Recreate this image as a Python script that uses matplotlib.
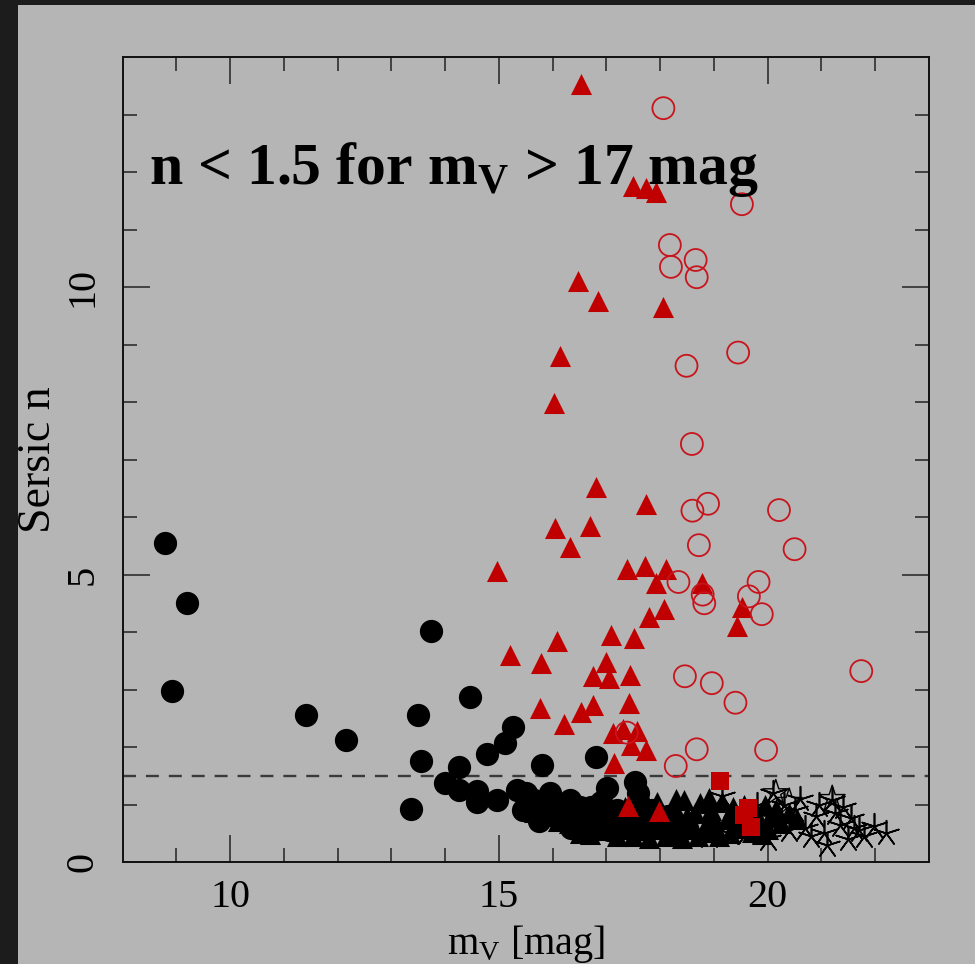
import matplotlib
matplotlib.use('Agg')
import matplotlib.pyplot as plt
from matplotlib.patches import Rectangle

plt.rcParams['font.family'] = ['Liberation Serif', 'DejaVu Serif']
plt.rcParams['mathtext.fontset'] = 'custom'
plt.rcParams['mathtext.rm'] = 'Liberation Serif'
plt.rcParams['mathtext.bf'] = 'Liberation Serif:bold'

# bright black filled circles
circ_x = [8.79, 9.2, 8.92, 11.42, 12.16, 13.74, 14.46, 13.5, 15.27, 15.12, 14.78, 13.56, 14.25,
          15.8, 16.8, 13.99, 14.25, 14.6, 14.97, 14.6, 15.34, 15.65, 15.96, 16.33, 17.02, 17.54,
          17.58, 13.37, 16.71, 17.4, 15.5, 15.8, 16.1, 16.5, 16.0, 16.9, 17.2, 15.45, 16.2, 16.55,
          16.95, 17.25, 17.7, 18.0, 18.3, 17.85, 18.15, 16.35, 16.75, 17.05, 15.75, 18.5]
circ_y = [5.55, 4.5, 2.97, 2.56, 2.12, 4.02, 2.87, 2.56, 2.35, 2.07, 1.88, 1.76, 1.65,
          1.69, 1.83, 1.37, 1.25, 1.24, 1.08, 1.05, 1.25, 1.08, 1.2, 1.08, 1.28, 1.39,
          1.2, 0.93, 0.96, 0.61, 1.2, 0.95, 1.0, 0.95, 0.85, 1.05, 0.9, 0.9, 0.78, 0.75,
          0.72, 0.68, 0.7, 0.65, 0.62, 0.9, 0.8, 0.6, 0.58, 0.55, 0.72, 0.6]

# black filled triangles (dense band)
btri_x = [15.65, 15.9, 16.1, 16.3, 16.45, 16.6, 16.75, 16.9, 17.05, 17.15, 17.3, 17.45, 17.55,
          17.65, 17.75, 17.85, 17.95, 18.05, 18.15, 18.25, 18.35, 18.45, 18.55, 18.65, 18.75,
          18.85, 18.95, 19.05, 19.15, 19.25, 19.35, 19.45, 19.55, 19.65, 19.75, 19.85, 19.95,
          20.05, 20.15, 20.25, 20.4, 20.55, 17.0, 17.6, 18.2, 18.8, 19.4, 18.5, 17.9, 17.35,
          16.85, 16.2, 19.0, 19.7, 20.0, 16.5, 16.7, 17.2, 17.5, 17.8, 18.1, 18.4, 18.7,
          19.1, 19.3, 19.9, 18.3, 17.7, 18.9]
btri_y = [0.87, 0.8, 0.72, 0.68, 0.85, 0.62, 0.78, 0.65, 0.9, 0.6, 0.8, 0.58, 1.0,
          0.72, 0.92, 0.58, 1.05, 0.75, 0.6, 0.95, 0.7, 1.08, 0.58, 0.85, 1.02,
          0.65, 0.9, 0.55, 1.05, 0.75, 0.95, 0.6, 1.0, 0.72, 0.9, 0.6, 1.0,
          0.78, 0.92, 0.68, 0.85, 0.75, 0.55, 0.55, 0.52, 0.52, 0.8, 0.8, 0.8, 0.95,
          0.85, 0.9, 0.75, 0.52, 0.58, 0.5, 0.48, 0.45, 0.45, 0.42, 0.45, 0.42, 0.45,
          0.45, 0.5, 0.48, 1.1, 1.12, 1.12]

# faint end asterisks
ast_x = [20.1, 20.3, 20.5, 20.7, 20.9, 21.05, 21.2, 21.25, 21.35, 21.5, 21.55, 21.7, 21.98,
         22.2, 21.1, 20.8, 20.6, 19.6, 19.9, 20.0, 20.4, 19.3, 19.15, 18.9, 21.4, 20.95,
         20.2, 21.8, 21.6, 19.8]
ast_y = [1.2, 1.0, 0.9, 0.6, 0.8, 0.5, 1.08, 0.85, 0.65, 0.4, 0.77, 0.55, 0.63,
         0.5, 0.3, 0.45, 1.1, 0.5, 0.7, 0.4, 0.55, 0.5, 1.15, 0.45, 0.95, 1.0,
         0.75, 0.45, 0.6, 1.0]

# open stars
star_x = [20.15, 20.4, 21.2]
star_y = [1.2, 1.05, 1.1]

# red filled triangles
rtri_x = [16.52, 17.5, 17.73, 17.92, 16.48, 16.85, 18.05, 16.13, 16.03, 16.8, 17.73, 16.05,
          16.69, 16.32, 14.97, 17.39, 17.71, 18.1, 17.93, 18.77, 17.8, 18.08, 19.53, 19.42,
          17.08, 17.52, 16.09, 15.2, 15.78, 17.0, 16.76, 17.05, 17.43, 15.76, 16.76, 16.52,
          17.42, 16.22, 17.13, 17.3, 17.56, 17.45, 17.73, 17.15, 17.41, 17.97]
rtri_y = [13.53, 11.76, 11.72, 11.65, 10.1, 9.76, 9.65, 8.8, 7.98, 6.52, 6.23, 5.81,
          5.84, 5.48, 5.06, 5.1, 5.14, 5.1, 4.85, 4.85, 4.26, 4.4, 4.43, 4.1,
          3.95, 3.9, 3.85, 3.6, 3.46, 3.47, 3.23, 3.2, 3.25, 2.68, 2.73, 2.61,
          2.76, 2.4, 2.24, 2.32, 2.28, 2.03, 1.95, 1.72, 0.97, 0.88]

# red open circles
ocirc_x = [18.06, 19.52, 18.18, 18.2, 18.66, 18.68, 18.49, 19.45, 18.59, 18.6, 18.89, 20.21,
           18.72, 20.5, 18.34, 18.79, 18.82, 19.83, 19.65, 19.89, 21.74, 18.46, 18.96, 19.4,
           18.68, 19.97, 18.29, 17.38]
ocirc_y = [13.11, 11.44, 10.73, 10.35, 10.47, 10.17, 8.63, 8.86, 7.27, 6.11, 6.23, 6.12,
           5.51, 5.44, 4.87, 4.65, 4.5, 4.87, 4.62, 4.31, 3.32, 3.23, 3.11, 2.77,
           1.96, 1.95, 1.67, 2.25]

# red filled squares
sq_x = [19.11, 19.63, 19.69, 19.55]
sq_y = [1.41, 0.94, 0.61, 0.82]

n_cut = 1.5

bg = '#b5b5b5'
red = '#c00000'

fig = plt.figure(figsize=(9.75, 9.64), dpi=100, facecolor=bg)
fig.patches.append(Rectangle((0, 0), 18 / 975, 1, transform=fig.transFigure,
                             facecolor='#1c1c1c', edgecolor='none', zorder=0))
fig.patches.append(Rectangle((0, 1 - 5 / 964), 1, 5 / 964, transform=fig.transFigure,
                             facecolor='#1c1c1c', edgecolor='none', zorder=0))

ax = fig.add_axes([122.5 / 975, 102 / 964, 806.5 / 975, 805 / 964])
ax.set_facecolor(bg)

ax.scatter(circ_x, circ_y, s=280, c='black', marker='o', linewidths=0, zorder=3)
ax.scatter(btri_x, btri_y, s=230, c='black', marker='^', linewidths=0, zorder=3)
ax.scatter(ast_x, ast_y, s=340, c='black', marker=(5, 2, 0), linewidths=1.2, zorder=3)
ax.scatter(star_x, star_y, s=380, facecolors='none', edgecolors='black', marker='*',
           linewidths=1.0, zorder=3)
ax.scatter(rtri_x, rtri_y, s=230, c=red, marker='^', linewidths=0, zorder=4)
ax.scatter(ocirc_x, ocirc_y, s=250, facecolors='none', edgecolors='#c8141c', marker='o',
           linewidths=1.3, zorder=4)
ax.scatter(sq_x, sq_y, s=160, c=red, marker='s', linewidths=0, zorder=4)

ax.axhline(n_cut, color='#3a3a3a', lw=1.7, linestyle=(0, (5.5, 4.2)), zorder=2)

ax.set_xlim(8, 23)
ax.set_ylim(0, 14)
ax.set_xticks([10, 15, 20])
ax.set_yticks([0, 5, 10])
ax.set_xticks(range(9, 23), minor=True)
ax.set_yticks(range(1, 14), minor=True)
ax.tick_params(which='both', direction='in', top=True, right=True, width=1.1, color='#222222')
ax.tick_params(which='major', length=19.5)
ax.tick_params(which='minor', length=10)
ax.tick_params(axis='x', labelsize=29, pad=12)
ax.tick_params(axis='y', labelsize=29, pad=15, labelrotation=90)
for lab in ax.get_yticklabels():
    lab.set_va('center')
for sp in ax.spines.values():
    sp.set_linewidth(1.4)
    sp.set_color('#111111')

ax.set_xlabel(r'm$_\mathrm{V}$ [mag]', fontsize=29)
ax.xaxis.set_label_coords(0.5, -0.076)
ax.set_ylabel('Sersic n', fontsize=33)
ax.yaxis.set_label_coords(-0.104, 0.5)
ax.yaxis.label.set_va('center')

ax.text(8.5, 11.79, r'n < 1.5 for m$_\mathbf{V}$ > 17 mag', fontsize=43, fontweight='bold',
        va='baseline', ha='left', zorder=5)

fig.savefig('out.png', dpi=100, facecolor=bg)
